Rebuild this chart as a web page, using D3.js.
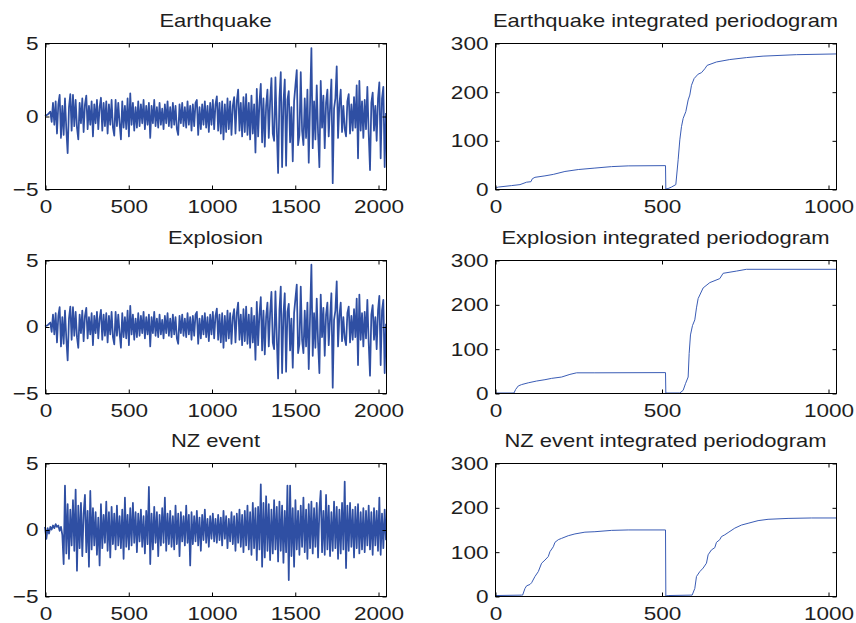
<!DOCTYPE html>
<html><head><meta charset="utf-8">
<script src="https://cdn.jsdelivr.net/npm/d3@7"></script>
<style>
body{margin:0;background:#fff}
svg{display:block}
text{font-family:"Liberation Sans",Arial,Helvetica,sans-serif;fill:#1e1e1e}
</style>
</head><body>
<svg id="chart" width="856" height="623"></svg>
<script>
const sampleStep = 8;
const earthquake = [
 0,0.05,0.1,0.2,0.3,-0.4,0.9,-0.6,1.0,-1.2,0.8,1.45,-1.5,0.7,-1.3,1.2,
 -0.9,-2.55,0.6,1.5,-1.0,1.45,-0.7,1.1,-0.8,-1.6,0.9,-0.5,1.2,-1.1,0.8,1.4,
 -0.9,0.7,-0.6,1.0,-1.4,0.8,-0.5,1.1,-0.9,0.6,1.25,-1.0,0.9,-0.7,1.0,-1.2,
 0.8,-0.6,1.1,-0.8,-1.35,1.1,-0.7,0.9,-0.5,-1.6,1.0,-0.8,0.7,-0.9,1.2,-1.4,
 1.55,-0.6,0.9,-1.0,0.6,-0.8,1.0,-0.7,0.8,-0.5,1.1,-0.9,0.7,-0.6,0.9,-1.5,
 0.7,-0.5,1.1,-0.7,0.6,-0.8,0.9,-0.6,0.5,-0.9,0.8,-0.5,1.0,-0.7,0.6,-0.8,
 0.9,-0.6,0.7,-0.9,-1.3,0.8,-0.5,0.9,-0.7,0.6,-0.8,1.0,-0.6,0.7,-1.0,0.8,
 -0.7,0.9,1.1,-1.3,0.6,-0.9,0.8,-0.6,1.0,-0.8,0.7,-1.1,0.9,-0.6,1.1,-0.9,
 0.8,1.35,-1.0,0.9,-1.2,1.0,-1.6,0.8,-1.1,1.2,-0.9,1.0,-1.3,0.7,1.3,-1.2,
 1.0,1.8,-1.0,0.9,-1.4,1.3,-1.1,1.5,-1.3,0.9,-1.6,1.4,-1.2,0.8,-2.5,1.85,
 -1.4,0.9,2.2,-1.8,1.2,-2.1,0.7,1.8,-1.5,1.0,2.6,-1.2,-1.7,2.65,-0.8,-3.9,
 1.2,3.0,-3.5,0.9,2.5,-3.4,1.1,1.7,-1.8,0.6,-3.1,1.0,2.1,3.15,-2.0,-1.3,
 3.0,-1.0,-2.0,1.2,-1.5,1.8,-3.2,0.8,4.65,-2.2,1.0,-1.6,2.1,-1.2,-3.5,2.4,
 -0.8,1.4,-2.2,0.9,1.8,-1.4,0.6,2.5,-4.6,0.5,1.2,3.4,-1.5,0.8,1.8,-1.1,
 0.7,-0.9,-1.4,1.0,1.5,-1.2,0.8,-1.0,1.3,-0.8,2.1,-2.9,2.4,-1.0,1.0,-1.5,
 1.1,-0.9,2.0,-1.2,-3.7,0.9,1.6,-1.0,0.7,-1.7,1.2,2.3,-2.9,1.2,2.0,-3.5,
 0.2
];
// the Explosion trace in the picture is the same record as the Earthquake trace
const explosion = earthquake;
const nzEvent = [
 0.2,-0.7,0.1,-0.3,0.2,0.0,0.3,0.1,0.4,0.2,0.3,-0.1,0.2,-0.4,-2.6,3.3,
 -1.8,1.9,-2.2,1.5,-1.2,2.2,-1.6,3.0,-3.1,1.8,-1.4,2.0,-2.0,1.2,2.6,-1.7,
 1.4,-2.8,2.9,-1.5,1.6,-1.2,1.3,-1.9,0.9,-2.7,1.9,-1.4,1.1,-1.0,2.1,-1.6,
 1.3,-2.1,1.7,-1.1,1.2,-1.5,1.8,-1.2,1.0,-1.4,1.5,-2.2,2.4,-1.3,1.1,-1.5,
 1.6,-1.2,2.0,-1.0,1.3,-1.7,1.2,-0.9,1.5,-1.3,1.0,-1.8,1.4,-1.1,3.2,-2.6,
 1.2,-1.5,1.7,-1.0,1.3,-2.0,1.1,-1.2,1.6,-1.0,2.4,-1.6,1.2,-1.1,1.4,-1.3,
 1.0,-1.5,1.8,-1.1,1.2,-2.0,1.3,-0.9,1.0,-1.2,1.8,-1.0,1.1,-2.7,1.3,-1.1,
 1.0,-0.9,1.4,-1.2,0.9,-1.6,1.1,-0.8,1.5,-1.0,0.8,-1.3,1.0,-0.7,1.2,-0.9,
 0.8,-1.0,1.1,-0.8,0.9,-1.2,1.4,-0.7,1.0,-1.4,0.8,-0.9,1.3,-1.1,1.0,-1.6,
 1.2,-1.0,1.5,-1.3,1.1,-1.7,1.4,-1.2,1.8,-1.5,1.3,-1.9,2.0,-1.4,1.6,-2.3,
 1.7,-1.5,3.4,-2.8,2.0,-2.1,2.5,-1.6,1.9,-2.3,1.5,-1.8,2.2,-1.5,1.7,-2.4,
 2.1,-1.6,1.8,-2.5,1.4,-1.7,3.3,-3.8,3.3,-2.0,1.6,-2.8,2.2,-1.5,1.4,-1.9,
 1.8,-1.3,2.4,-1.7,1.5,-2.2,1.9,-1.4,2.1,-1.8,1.6,-1.3,2.0,-2.1,1.5,2.9,
 -1.7,1.4,-1.9,2.6,-1.5,1.8,-2.0,1.3,-1.6,2.1,-1.4,1.7,-2.2,1.5,-1.8,2.0,
 -1.5,3.6,-2.9,1.8,-1.6,2.0,-1.3,1.5,-2.1,1.7,-1.4,1.9,-1.8,1.3,-1.5,1.6,
 -1.7,1.4,-1.2,1.8,-1.5,1.3,-1.9,1.6,-1.2,1.4,-1.6,2.4,-1.9,1.2,-1.4,1.5,
 -0.8
];

const eqPgFreq = [0,5,10,30,50,75,95,108,112,120,150,175,210,250,300,350,400,512,513,520,530,543,550,555,560,565,573,580,585,590,598,610,620,630,637,665,705,755,805,905,1024];
const eqPgVal  = [0,3,4,5.5,7,9,14,15,21,24,27,30,36,40,43,46,47.5,48,0,1,4,9,60,101,128,145,159,183,193,213,227,236,239,247,254,261,266,270,273,276,277.5];

const exPgFreq = [0,57,62,70,80,100,125,150,170,200,225,245,300,512,513,555,565,572,580,583,587,593,600,605,610,625,645,675,685,725,755,1024];
const exPgVal  = [0,0,8,16,19,23,27,30,33,36,42,45.5,45.5,46,0,0,6,21,36,89,131,152,165,192,213,237,249,258,270,275,279,279];

const nzPgFreq = [0,80,83,90,95,105,110,120,130,140,150,160,165,175,180,190,200,220,240,270,300,350,400,512,513,520,588,592,600,605,615,625,635,640,650,660,665,675,680,690,700,720,740,760,790,820,880,950,1024];
const nzPgVal  = [1,2,2,17,23,26,30,44,55,74,81,89,100,111,121,127,130,136,140,144,145,148,149,149,0,1,2,2,17,44,55,63,74,93,104,109,121,127,134,138,143,153,160,164,170,173,175,176,176];

const leftTitles  = ["Earthquake","Explosion","NZ event"];
const rightTitles = ["Earthquake integrated periodogram","Explosion integrated periodogram","NZ event integrated periodogram"];
const tsXTicks = [0,500,1000,1500,2000];
const tsYTicks = [-5,0,5];
const pgXTicks = [0,500,1000];
const pgYTicks = [0,100,200,300];

// ---- layout ----
const rows = [{top:43,bottom:189},{top:260,bottom:393},{top:463,bottom:596}];
const cols = [{left:45,right:386},{left:495,right:836}];
const TS_COLOR = "#2f4fa3", PG_COLOR = "#3a5cb5";
const SX = 1.22; // horizontal stretch of the text in the picture
const svg = d3.select("#chart");

function fmt(d){ return d < 0 ? "\u2212" + Math.abs(d) : String(d); }

function panel(col, row, xDomain, yDomain, xTicks, yTicks, title, drawFn){
  const x = d3.scaleLinear().domain(xDomain).range([col.left, col.right]);
  const y = d3.scaleLinear().domain(yDomain).range([row.bottom, row.top]);
  const g = svg.append("g");
  drawFn(g, x, y);
  g.append("rect").attr("x", col.left+0.5).attr("y", row.top+0.5)
    .attr("width", col.right-col.left).attr("height", row.bottom-row.top)
    .attr("fill","none").attr("stroke","#000").attr("stroke-width",1);
  const tickLen = -4;
  const axB = g.append("g").attr("transform",`translate(0.5,${row.bottom+0.5})`)
    .call(d3.axisBottom(x).tickValues(xTicks).tickSize(tickLen).tickSizeOuter(0).tickPadding(10).tickFormat(fmt));
  const axT = g.append("g").attr("transform",`translate(0.5,${row.top+0.5})`)
    .call(d3.axisTop(x).tickValues(xTicks).tickSize(tickLen).tickSizeOuter(0).tickFormat(""));
  const axL = g.append("g").attr("transform",`translate(${col.left+0.5},0.5)`)
    .call(d3.axisLeft(y).tickValues(yTicks).tickSize(tickLen).tickSizeOuter(0).tickPadding(7).tickFormat(fmt));
  const axR = g.append("g").attr("transform",`translate(${col.right+0.5},0.5)`)
    .call(d3.axisRight(y).tickValues(yTicks).tickSize(tickLen).tickSizeOuter(0).tickFormat(""));
  [axB,axT,axL,axR].forEach(a=>{
    a.select(".domain").remove();
    a.selectAll(".tick line").attr("stroke","#000");
    a.selectAll("text").attr("font-size",18.5).attr("font-family",'"Liberation Sans",Arial,sans-serif').attr("fill","#1e1e1e");
  });
  axB.selectAll(".tick text").attr("transform",`scale(${SX},1)`);
  axL.selectAll(".tick text").each(function(){
    const t = d3.select(this); const xx = +t.attr("x");
    t.attr("x",0).attr("transform",`translate(${xx},0) scale(${SX},1)`);
  });
  const cx = (col.left+col.right)/2;
  g.append("text").attr("transform",`translate(${cx},${row.top-16}) scale(${SX},1)`)
    .attr("text-anchor","middle").attr("font-size",18).text(title);
}

function drawSeries(values){
  return (g,x,y)=>{
    const line = d3.line().x((d,i)=>x(i*sampleStep)).y(d=>y(d));
    g.append("path").datum(values).attr("d",line).attr("fill","none")
      .attr("stroke",TS_COLOR).attr("stroke-width",1.75).attr("stroke-linejoin","round");
  };
}
function drawPgram(freq, vals){
  return (g,x,y)=>{
    const line = d3.line().x((d,i)=>x(freq[i])).y(d=>y(d));
    g.append("path").datum(vals).attr("d",line).attr("fill","none")
      .attr("stroke",PG_COLOR).attr("stroke-width",1);
  };
}

const tsData = [earthquake, explosion, nzEvent];
const pg = [[eqPgFreq,eqPgVal],[exPgFreq,exPgVal],[nzPgFreq,nzPgVal]];
for(let r=0;r<3;r++){
  panel(cols[0], rows[r], [0,2048], [-5,5], tsXTicks, tsYTicks, leftTitles[r], drawSeries(tsData[r]));
  panel(cols[1], rows[r], [0,1024], [0,300], pgXTicks, pgYTicks, rightTitles[r], drawPgram(pg[r][0], pg[r][1]));
}
</script>
</body></html>
